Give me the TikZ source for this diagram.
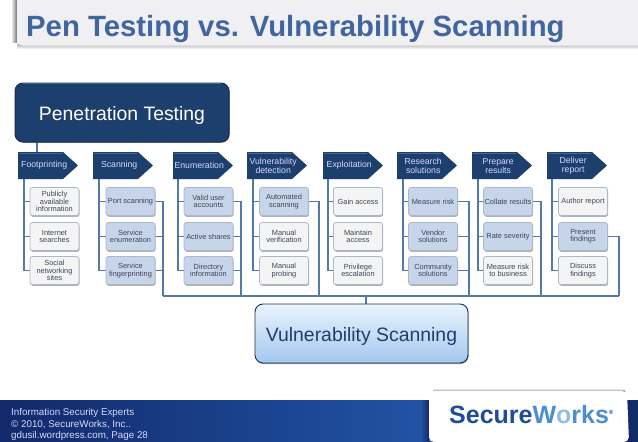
\documentclass[tikz,border=0pt]{standalone}
\usepackage{fontspec}
\setmainfont{Liberation Sans}
\usetikzlibrary{shadows,backgrounds}
\definecolor{navy}{HTML}{1C3F6E}
\definecolor{navyedge}{HTML}{162F55}
\definecolor{wire}{HTML}{5279A8}
\definecolor{titleblue}{HTML}{41659F}
\definecolor{panelgray}{HTML}{F0F0F2}
\definecolor{bluebox}{HTML}{C6D5E9}
\definecolor{whitebox}{HTML}{F4F4F4}
\definecolor{boxedge}{HTML}{A9B8CA}
\definecolor{boxtext}{HTML}{3B4654}
\definecolor{footdark}{HTML}{12296A}
\definecolor{footmid}{HTML}{1C4794}
\definecolor{footlight}{HTML}{2456A8}
\definecolor{logoblue}{HTML}{1F4E96}
\definecolor{logolight}{HTML}{4B8FD0}
\definecolor{vstop}{HTML}{EAF4FD}
\definecolor{vsbottom}{HTML}{A4C7EE}
\tikzset{
  x=1pt,y=-1pt,
  subbox/.style={rectangle,rounded corners=2.5pt,draw=boxedge,line width=.8pt,
    minimum width=49pt,minimum height=28pt,inner sep=0pt,align=center,
    text=boxtext,font=\fontsize{7.4}{7.2}\selectfont,
    general shadow={shadow xshift=.6pt,shadow yshift=-1.4pt,fill=black!30}},
  wb/.style={subbox,fill=whitebox},
  bb/.style={subbox,fill=bluebox},
  chevtext/.style={rectangle,inner sep=0pt,minimum width=52pt,minimum height=27pt,align=center,
    text=white!85!blue,font=\fontsize{8.7}{8.8}\selectfont},
  conn/.style={draw=wire,line width=1.6pt},
  bigbox/.style={rectangle,rounded corners=8pt,inner sep=0pt,minimum width=214pt,minimum height=59pt,
    text height=15.5pt,text depth=0pt,font=\fontsize{19.4}{22}\selectfont},
}
\newcommand{\chevron}[3]{% name, left x, label
  \fill[navy] (#2,152) -- ++(45,0) -- ++(15,13.5) -- ++(-15,13.5) -- ++(-45,0) -- cycle;
  \draw[wire!70!navy,line width=1.2pt] (#2+1,153.5) -- ++(43,0);
  \node[chevtext,anchor=north west] (#1) at (#2,152) {#3};
}
\begin{document}
\begin{tikzpicture}
\useasboundingbox (0,0) rectangle (638,442);
% title panel
\shade[left color=white,right color=black!55] (11,0) rectangle (17,42);
\shade[top color=black!30,bottom color=white] (17,44) rectangle (638,49);
\fill[panelgray,rounded corners=5pt] (17,-10) rectangle (650,45.5);
\node[anchor=base west,inner sep=0pt,text=titleblue,font=\bfseries\fontsize{29.3}{32}\selectfont] (title) at (26,36) {Pen Testing vs. Vulnerability Scanning};
% top box
\node[bigbox,fill=navy,draw=navyedge,line width=1pt,text=white,
  general shadow={shadow xshift=.7pt,shadow yshift=-.7pt,fill=black!45}] (pt) at (122,112.5) {Penetration Testing};
\draw[wire!60!navy,line width=.9pt] (pt.north west)++(8,1.2) -- ++(198,0);
% step chevrons
\chevron{c1}{18}{Footprinting}
\chevron{c2}{93}{Scanning}
\chevron{c3}{173}{Enumeration}
\chevron{c4}{247}{Vulnerability\\detection}
\chevron{c5}{323}{Exploitation}
\chevron{c6}{397}{Research\\solutions}
\chevron{c7}{472}{Prepare\\results}
\chevron{c8}{547}{Deliver\\report}
% sub-boxes
\node[wb] (a1) at (54.5,201.5) {Publicly\\available\\information};
\node[wb] (a2) at (54.5,236.5) {Internet\\searches};
\node[wb] (a3) at (54.5,270.5) {Social\\networking\\sites};
\node[bb] (b1) at (130.5,201.5) {Port scanning};
\node[bb] (b2) at (130.5,236.5) {Service\\enumeration};
\node[bb] (b3) at (130.5,270.5) {Service\\fingerprinting};
\node[bb] (d1) at (208.5,201.5) {Valid user\\accounts};
\node[bb] (d2) at (208.5,236.5) {Active shares};
\node[bb] (d3) at (208.5,270.5) {Directory\\information};
\node[bb] (e1) at (284,201.5) {Automated\\scanning};
\node[wb] (e2) at (284,236.5) {Manual\\verification};
\node[wb] (e3) at (284,270.5) {Manual\\probing};
\node[wb] (f1) at (358,201.5) {Gain access};
\node[wb] (f2) at (358,236.5) {Maintain\\access};
\node[wb] (f3) at (358,270.5) {Privilege\\escalation};
\node[bb] (g1) at (433,201.5) {Measure risk};
\node[bb] (g2) at (433,236.5) {Vendor\\solutions};
\node[bb] (g3) at (433,270.5) {Community\\solutions};
\node[bb] (h1) at (508,201.5) {Collate results};
\node[bb] (h2) at (508,236.5) {Rate severity};
\node[wb] (h3) at (508,270.5) {Measure risk\\to business};
\node[wb] (i1) at (583,201.5) {Author report};
\node[bb] (i2) at (583,236.5) {Present\\findings};
\node[wb] (i3) at (583,270.5) {Discuss\\findings};
% bottom box
\node[bigbox,minimum width=213pt,top color=vstop,bottom color=vsbottom,
  draw=navyedge,line width=.9pt,text=navy,
  general shadow={shadow xshift=.6pt,shadow yshift=-1pt,fill=black!40}] (vs) at (361.5,333.5) {Vulnerability Scanning};
% connector anchors
\coordinate (t1) at (24,179);
\coordinate (t2) at (99,179);
\coordinate (t3) at (178,179);
\coordinate (t4) at (253,179);
\coordinate (t5) at (328,179);
\coordinate (t6) at (403,179);
\coordinate (t7) at (478,179);
\coordinate (t8) at (552,179);
\coordinate (bus1) at (163,296);
\coordinate (bus2) at (241,296);
\coordinate (bus3) at (319,296);
\coordinate (bus4) at (469,296);
\coordinate (bus5) at (541,296);
\coordinate (bus6) at (619,296);
\coordinate (join) at (366,296);
\coordinate (ptfoot) at (37,142);
\coordinate (chtop) at (37,152);
\begin{scope}[on background layer]
\draw[conn] (ptfoot) -- (chtop);
\foreach \t/\n in {t1/a,t2/b,t3/d,t4/e,t5/f,t6/g,t7/h,t8/i}{
  \draw[conn] (\t) |- (\n3.west);
  \draw[conn] (\t |- \n1.west) -- (\n1.west);
  \draw[conn] (\t |- \n2.west) -- (\n2.west);
}
\foreach \n/\b in {b1/bus1,b2/bus1,b3/bus1,d1/bus2,d2/bus2,d3/bus2,e1/bus3,g1/bus4,g2/bus4,g3/bus4,h1/bus5,h2/bus5,i2/bus6}{
  \draw[conn] (\n.east) -| (\b);
}
\draw[conn] (bus1) -- (bus6);
\draw[conn] (join) -- (join |- vs.north);
\end{scope}
% footer
\shade[left color=footdark,right color=footmid] (0,400) rectangle (300,442);
\shade[left color=footmid,right color=footlight] (300,400) rectangle (460,442);
\fill[footdark] (460,400) rectangle (638,442);
\shade[left color=footlight,right color=footdark] (420,400) rectangle (429,442);
\shade[top color=white,bottom color=black!50] (433,388.5) rectangle (625,391.5);
\fill[white,rounded corners=5pt] (429,391) -- (627,391) -- (629,442) -- (429,442) -- cycle;
\node[anchor=north west,inner sep=0pt,align=left,text=white!85!blue,font=\fontsize{9.8}{11.4}\selectfont] (foot) at (11,408.5)
  {Information Security Experts\\© 2010, SecureWorks, Inc..\\gdusil.wordpress.com, Page 28};
\node[anchor=base west,inner sep=0pt,font=\bfseries\fontsize{25}{28}\selectfont] (logo) at (449,423)
  {\textcolor{logoblue}{Secure}\textcolor{logolight}{W}\textcolor{logolight!60!white}{o}\textcolor{logolight}{rks}\raisebox{9pt}{\textcolor{logoblue}{\fontsize{6}{6}\selectfont ®}}};
\end{tikzpicture}
\end{document}
